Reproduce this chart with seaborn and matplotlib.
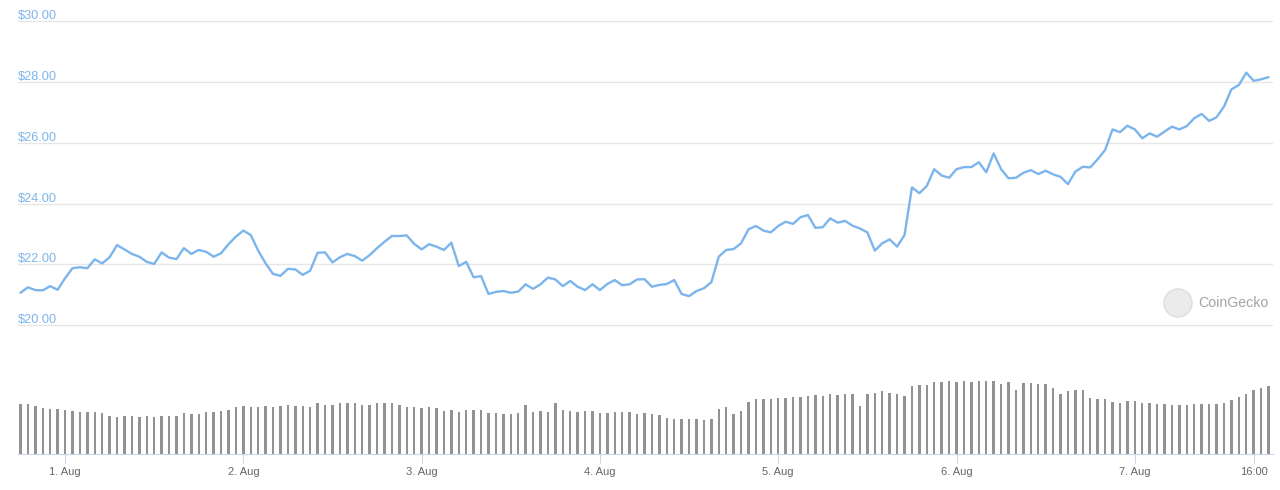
"""
Hourly price and volume chart (1 - 7 Aug), CoinGecko style.
"""

import numpy as np
import pandas as pd
import matplotlib
matplotlib.use("Agg")
import matplotlib.pyplot as plt
import matplotlib.transforms as mtransforms
from matplotlib.patches import Ellipse
import seaborn as sns

# Data (one sample per hour, first sample = 31 Jul 18:00)
price = [
    21.06, 21.24, 21.15, 21.14, 21.28, 21.16, 21.54, 21.87, 21.90, 21.87,
    22.16, 22.03, 22.23, 22.63, 22.49, 22.34, 22.25, 22.08, 22.01, 22.39,
    22.22, 22.17, 22.53, 22.34, 22.47, 22.41, 22.25, 22.36, 22.66, 22.91,
    23.11, 22.96, 22.45, 22.03, 21.68, 21.62, 21.85, 21.83, 21.65, 21.79,
    22.38, 22.39, 22.06, 22.23, 22.34, 22.27, 22.12, 22.30, 22.53, 22.74,
    22.93, 22.93, 22.95, 22.67, 22.49, 22.66, 22.58, 22.47, 22.71, 21.94,
    22.08, 21.57, 21.61, 21.02, 21.09, 21.12, 21.06, 21.10, 21.34, 21.19,
    21.34, 21.56, 21.50, 21.28, 21.45, 21.26, 21.15, 21.34, 21.15, 21.35,
    21.48, 21.31, 21.34, 21.50, 21.51, 21.26, 21.32, 21.35, 21.48, 21.02,
    20.95, 21.12, 21.21, 21.41, 22.25, 22.47, 22.50, 22.69, 23.15, 23.26,
    23.11, 23.05, 23.26, 23.40, 23.33, 23.55, 23.62, 23.20, 23.22, 23.51,
    23.37, 23.43, 23.27, 23.18, 23.05, 22.45, 22.69, 22.82, 22.58, 22.96,
    24.53, 24.34, 24.58, 25.13, 24.92, 24.85, 25.13, 25.20, 25.20, 25.36,
    25.03, 25.65, 25.13, 24.83, 24.85, 25.01, 25.10, 24.97, 25.08, 24.96,
    24.88, 24.64, 25.05, 25.21, 25.19, 25.46, 25.76, 26.44, 26.35, 26.56,
    26.44, 26.15, 26.31, 26.20, 26.37, 26.53, 26.44, 26.55, 26.81, 26.95,
    26.72, 26.84, 27.19, 27.76, 27.90, 28.31, 28.04, 28.09, 28.16,
]

# volume, relative units (the volume axis has no labels)
volume = [
    150, 150, 146, 139, 136, 136, 133, 130, 127, 127,
    127, 123, 114, 112, 115, 114, 111, 115, 112, 115,
    115, 115, 123, 121, 121, 127, 127, 131, 134, 143,
    146, 143, 143, 146, 143, 146, 149, 146, 146, 143,
    153, 149, 149, 153, 153, 153, 149, 149, 153, 153,
    153, 149, 143, 143, 140, 143, 139, 131, 133, 127,
    133, 133, 133, 125, 125, 121, 121, 124, 149, 128,
    130, 127, 155, 133, 130, 127, 130, 130, 124, 124,
    127, 127, 127, 121, 124, 121, 118, 108, 105, 105,
    105, 105, 102, 105, 136, 142, 121, 130, 158, 165,
    165, 165, 168, 168, 171, 171, 174, 177, 174, 180,
    177, 180, 180, 145, 180, 183, 189, 183, 180, 174,
    205, 208, 208, 216, 216, 219, 216, 219, 216, 219,
    219, 219, 210, 216, 192, 213, 213, 210, 210, 198,
    181, 191, 194, 194, 168, 165, 165, 158, 154, 160,
    160, 154, 154, 151, 151, 148, 148, 148, 151, 151,
    151, 151, 154, 163, 173, 182, 192, 198, 205,
]

price_ticks = [20, 22, 24, 26, 28, 30]
tick_hours = [0, 24, 48, 72, 96, 120, 144, 160]
tick_labels = ["1. Aug", "2. Aug", "3. Aug", "4. Aug", "5. Aug", "6. Aug", "7. Aug", "16:00"]

# hours relative to 1 Aug 00:00
hours = np.arange(len(price)) - 6
df = pd.DataFrame({"hour": hours, "price": price, "volume": volume})

LINE_COLOR = "#7cb5ec"
BAR_COLOR = "#929292"
GRID_COLOR = "#e6e6e6"
AXIS_COLOR = "#ccd6eb"

W, H = 1280, 490


def px_rect(left, top, right, bottom):
    """pixel box -> figure fraction rect"""
    return [left / W, 1 - bottom / H, (right - left) / W, (bottom - top) / H]


sns.set_theme(style="white")
plt.rcParams["font.family"] = ["Liberation Sans", "DejaVu Sans"]

fig = plt.figure(figsize=(W / 100, H / 100), dpi=100)
fig.patch.set_facecolor("white")

# pixel scale of the price axis: $30 at y=21.3, $20 at y=325
ppd = (325 - 21.3) / 10
pad = 0.1
ax_p = fig.add_axes(px_rect(18, 21.3 - pad * ppd, 1273, 325 + pad * ppd))
ax_v = fig.add_axes(px_rect(18, 375, 1273, 454.3))

xlim = (-6.33, 162.6)

# --- price
sns.lineplot(data=df, x="hour", y="price", ax=ax_p, color=LINE_COLOR,
             linewidth=1.7)
ax_p.set_xlim(xlim)
ax_p.set_ylim(20 - pad, 30 + pad)
ax_p.set_yticks(price_ticks)
ax_p.yaxis.grid(True, color=GRID_COLOR, linewidth=1)
ax_p.set_axisbelow(True)
ax_p.tick_params(left=False, bottom=False, labelleft=False, labelbottom=False)
ax_p.set_xlabel("")
ax_p.set_ylabel("")
for s in ax_p.spines.values():
    s.set_visible(False)

trans = mtransforms.blended_transform_factory(ax_p.transAxes, ax_p.transData)
for v in price_ticks:
    ax_p.annotate(f"${v:.2f}", xy=(0, v), xycoords=trans, xytext=(0, 1.3),
                  textcoords="offset points", ha="left", va="baseline",
                  fontsize=9.2, color=LINE_COLOR)

# --- volume
sns.barplot(data=df, x="hour", y="volume", ax=ax_v, native_scale=True,
            width=0.33, color=BAR_COLOR, saturation=1, errorbar=None,
            linewidth=0, edgecolor="none")
ax_v.set_xlim(xlim)
ax_v.set_ylim(0, 238)
ax_v.set_xticks(tick_hours)
ax_v.set_xticklabels(tick_labels)
ax_v.set_yticks([])
ax_v.set_xlabel("")
ax_v.set_ylabel("")
for name, s in ax_v.spines.items():
    s.set_visible(name == "bottom")
ax_v.spines["bottom"].set_color(AXIS_COLOR)
ax_v.spines["bottom"].set_linewidth(0.8)
ax_v.tick_params(axis="x", bottom=True, length=6.8, width=0.8, color=AXIS_COLOR,
                 labelsize=8, labelcolor="#666666", pad=2)

# --- watermark
fig.patches.append(Ellipse((1178 / W, 1 - 303 / H), 28 / W, 28 / H,
                           transform=fig.transFigure, facecolor="#ebebeb",
                           edgecolor="#dddddd", linewidth=1))
fig.text(1198 / W, 1 - 303 / H, "CoinGecko", ha="left", va="center",
         fontsize=10.2, color="#a3a3a3")

fig.savefig("out.png", dpi=100)
